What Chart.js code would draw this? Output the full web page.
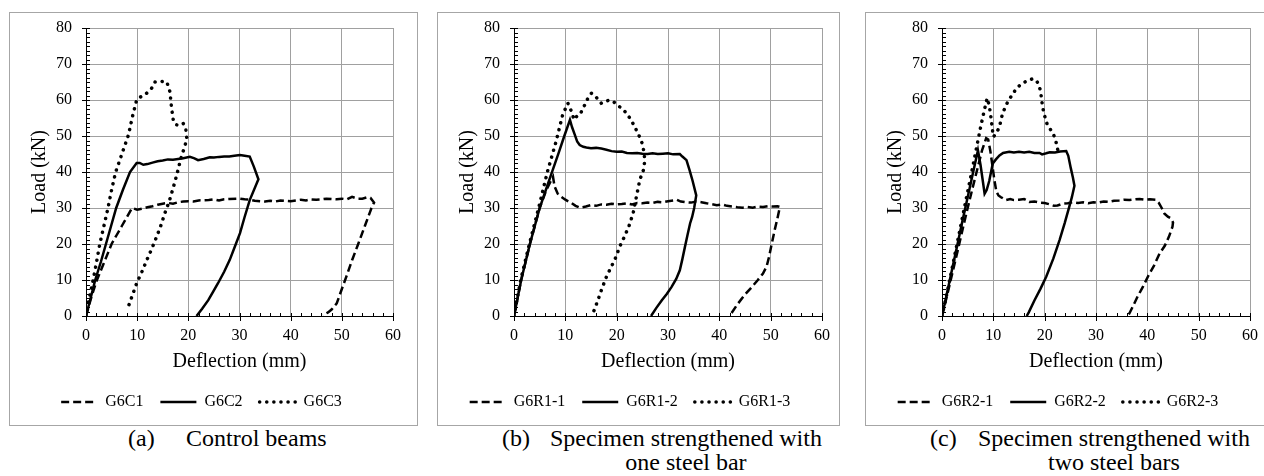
<!DOCTYPE html>
<html>
<head>
<meta charset="utf-8">
<script src="https://cdn.jsdelivr.net/npm/chart.js@4.4.1/dist/chart.umd.min.js"></script>
<style>
  html, body { margin: 0; padding: 0; background: #fff; }
  body { width: 1264px; height: 476px; position: relative; overflow: hidden; font-family: 'Liberation Serif', 'Times New Roman', Times, 'DejaVu Serif', 'Noto Serif', serif; color: #000; }
  .panel { position: absolute; top: 12px; height: 412px; border: 1px solid #a6a6a6; }
  .panel canvas { display: block; }
  .cap { position: absolute; top: 426px; font-size: 24px; line-height: 24px; white-space: nowrap; }
  .cap.txt { text-align: center; }
</style>
</head>
<body>
<div class="panel" style="left:9px;width:407px"><canvas id="chartA" width="407" height="412"></canvas></div>
<div class="panel" style="left:437px;width:401px"><canvas id="chartB" width="401" height="412"></canvas></div>
<div class="panel" style="left:865px;width:401px"><canvas id="chartC" width="401" height="412"></canvas></div>

<div class="cap" style="left:128px">(a)</div>
<div class="cap" style="left:186px">Control beams</div>
<div class="cap" style="left:502px">(b)</div>
<div class="cap txt" style="left:550px">Specimen strengthened with<br>one steel bar</div>
<div class="cap" style="left:930px">(c)</div>
<div class="cap txt" style="left:978px">Specimen strengthened with<br>two steel bars</div>

<script>
// axis ticks
const deflectionTicks = [0, 10, 20, 30, 40, 50, 60];
const loadTicks = [0, 10, 20, 30, 40, 50, 60, 70, 80];

// (a) control beams, [deflection mm, load kN]
const g6c1 = [[0,0],[1,5],[2,9.5],[3,13],[4,16.5],[5,20],[6,22.5],[7,25],[8,27.5],[9,30],[10,29.5],[11,29.8],[12,30.2],[13,30.5],[14,30.9],[15,31.2],[16,31.4],[17,31.2],[18,31.6],[19,31.8],[20,31.9],[21,31.8],[22,32.1],[24,32.2],[25,32.4],[26,32.1],[27,32.4],[28,32.5],[30,32.6],[31,32.4],[32,32.3],[33,32],[34,31.9],[35,31.8],[36,32],[37,31.8],[38,32.1],[39,32],[40,31.9],[41,32.1],[42,32.3],[43,32.1],[44,32.4],[45,32.3],[46,32.4],[47,32.6],[48,32.5],[49,32.4],[50,32.6],[51,32.4],[52,33.1],[53,32.6],[54,32.6],[55,33],[55.6,32.8],[56.3,31.5],[55.8,30],[54.5,25],[53.2,20],[52,15.5],[50.9,11],[50,7.5],[49,3.5],[48,1.8],[47.3,1],[46.3,0.2]];
const g6c2 = [[0,0],[1,5.5],[1.8,10],[2.9,15],[3.9,20],[4.9,25],[5.9,30],[7.2,35],[8.6,40],[9.9,42.5],[10.5,42.5],[11.2,42],[12,42.2],[13,42.6],[14,43],[15,43.2],[16,43.5],[17,43.4],[18,43.6],[19,43.8],[20.3,44.2],[21.2,43.8],[21.9,43.3],[23,43.6],[24.2,44.1],[25,44],[26,44.2],[27,44.3],[28,44.3],[29,44.5],[30.1,44.7],[31,44.5],[32,44.3],[32.8,41.5],[33.7,38],[32,32.2],[31,27.5],[30.1,23],[29.1,19.3],[28.1,15.6],[27,12.3],[25.8,9.1],[24.8,6.6],[23.9,4.4],[22.7,2],[21.6,0]];
const g6c3 = [[0,0],[0.5,4],[1.4,10],[2,14.5],[2.7,20],[3.5,25],[4.3,30],[5,35],[5.8,40],[6.6,43.3],[7.5,47],[8.3,50.3],[9.1,55.5],[9.9,60],[10.6,60.8],[11.5,61.4],[12.8,63.2],[13.5,65],[14.6,65.2],[15.8,65],[16.4,62.3],[16.7,58.1],[17.1,54],[17.7,53.1],[18.3,53],[19,53.5],[19.5,52],[19.7,49.4],[19.3,47],[18.8,45],[18.4,43],[17.8,39.5],[17.1,35.9],[16.3,32],[15.4,28.5],[14.6,25],[13.8,22],[12.8,18.5],[11.9,15.6],[10.9,12.2],[9.9,9.1],[9,5.5],[8.1,1.9]];

// (b) one steel bar
const g6r11 = [[0,0],[1.4,10],[3.1,20],[5,30],[6.3,35],[7.6,38.7],[7.9,36],[8.5,34],[9.2,33.1],[10,32.3],[11.2,31.4],[12,30.6],[12.8,30.1],[14,30.4],[15,30.8],[16,30.6],[17,31],[18,30.9],[19,31.2],[20,31],[21,31.1],[22,31.3],[23,31],[24,31.4],[25,31.3],[26,31.5],[27,31.4],[28,31.7],[29,31.6],[30,31.9],[31,32.1],[31.7,32.3],[32.5,31.8],[33.5,31.6],[34.5,31.5],[35.5,31.8],[36.5,31.6],[37.5,31.3],[38.5,31.1],[39.5,30.8],[40.5,31],[41.5,30.6],[42.5,30.4],[43.5,30.2],[44.5,30.1],[45.5,30.3],[46.5,30.1],[47.5,30.4],[48.5,30.3],[49.5,30.5],[50.5,30.4],[51.3,30.5],[51.8,30.3],[51.3,27],[50.8,24],[50.1,19.3],[49.7,16.5],[49.2,13.7],[48.5,11.8],[47.5,10],[46.3,8],[44.9,5.8],[43.5,3.2],[42,0]];
const g6r12 = [[0,0],[1.4,10],[3.1,20],[5,30],[6.2,35],[7.5,40.4],[8.7,45.3],[9.8,50],[10.9,54.5],[11.3,52.5],[11.8,50.5],[12.3,48.5],[12.8,47.5],[13.5,47],[14.1,46.8],[15,46.6],[16,46.7],[17,46.5],[18,46.2],[19,45.8],[20,45.6],[21,45.7],[22,45.3],[23,45.2],[24,45.3],[25,45.1],[26,45],[27,45.2],[28,45],[29,45.1],[30,45.2],[31,44.9],[32.3,45],[32.8,44.3],[33.6,43.3],[34.2,40.5],[34.8,37.5],[35.5,33.5],[35.1,30],[34.7,27.5],[34.3,25.7],[33.8,22.5],[33.3,19.2],[32.8,15.8],[32.3,12.7],[31.6,10.3],[30.7,8.1],[29.8,6.2],[28.8,4.4],[27.7,2.2],[26.7,0]];
const g6r13 = [[0,0],[1.3,10],[3,20],[4.8,30],[6.5,40],[8.2,48.5],[9.5,56],[10.5,59.1],[11.2,56.8],[11.7,54.5],[12.2,55.4],[12.8,55.8],[13.5,57.8],[14.3,60.2],[15.1,61.9],[16,60.8],[17,59.1],[17.8,59.6],[18.6,60],[19.5,59.4],[20.5,58.2],[21.2,57.5],[21.9,56.3],[22.8,54.5],[23.5,52.6],[24.3,50.3],[25.1,47.5],[25.5,43.3],[25.2,40.5],[24.5,37.8],[23.9,33.5],[23.2,28.5],[22.4,25],[21.5,22],[20.6,19.3],[19.8,16.2],[18.9,13.5],[18,10.9],[17.1,7.5],[16.3,4.2],[15.4,0.8]];

// (c) two steel bars
const g6r21 = [[0,0],[1,5.8],[2,11.8],[3,17.8],[4,24],[5,30],[6,35.8],[7,41.5],[7.8,46],[8.6,49.4],[9,49],[9.4,46],[9.8,42],[10.2,37.8],[10.6,34.5],[11,33.5],[11.5,33],[12.4,32.2],[13.3,32.5],[14,32.2],[15,32.3],[16,32.5],[17,31.7],[18,31.8],[19,31.5],[20,31.4],[21,31],[21.8,30.6],[22.5,30.7],[23.5,31.2],[24.5,31.3],[25.5,31.6],[26.5,31.4],[27.5,31.6],[28.5,31.3],[29.5,31.6],[30.5,31.5],[31.5,31.8],[32.5,31.7],[33.5,32],[34.5,32.1],[35.5,32.3],[36.5,32.2],[37.7,32.4],[38.5,32.5],[39.5,32.3],[40.5,32.4],[41.6,32.3],[42.2,31.5],[42.8,30],[43.3,28.5],[44,27.6],[44.6,27.1],[45,26],[44.9,24.8],[44.2,22],[43.4,19.5],[42.4,17.4],[41.3,14],[40.1,10.9],[39.1,8],[38.1,5.4],[37.3,3],[36.5,0.7],[36.2,0]];
const g6r22 = [[0,0],[1,6.5],[2,13.2],[3,19.8],[4,26.5],[5,33],[6,39.5],[7,46],[7.5,42],[8,37],[8.3,34],[8.7,35],[9.2,37.5],[9.9,42.4],[10.5,43.5],[11.2,44.6],[11.9,45.3],[13.1,45.6],[14,45.4],[15,45.6],[16,45.4],[17,45.6],[18,45.3],[19,45.3],[19.5,44.9],[20.3,45.2],[21,45.5],[22,45.4],[23,45.7],[24.2,45.8],[24.6,44.5],[25.1,41],[25.5,38.5],[25.8,36.2],[25.3,33],[24.8,30.4],[23.9,25.8],[22.9,21.1],[21.7,16],[20.3,10.9],[19.2,7.6],[18,4.3],[16.9,1],[16.5,0]];
const g6r23 = [[0,0],[1,6.5],[2,13.5],[3,20.5],[4,27.5],[5,34.5],[6,41.5],[6.9,48],[7.6,53],[8.3,57.5],[8.8,60.5],[9.2,58.5],[9.5,55.5],[10,49.8],[10.5,50.5],[11.2,52.6],[11.8,56.3],[12.8,59.5],[13.7,61.5],[14.6,63.4],[15.6,64.6],[16.6,65.3],[17.5,65.8],[18.3,65.6],[18.8,64.4],[19.2,62.5],[19.6,58],[20.1,55],[20.5,53.2],[21,52.1],[21.7,50.5],[22.1,49],[22.4,47.2],[22.6,45.8]];

Chart.defaults.font.family = "'Liberation Serif', 'Times New Roman', Times, 'DejaVu Serif', 'Noto Serif', serif";
Chart.defaults.color = '#000';

// dashed, solid, dotted
const lineStyles = [
    { borderWidth: 2.5, borderDash: [8, 4], borderCapStyle: 'butt' },
    { borderWidth: 2.5, borderDash: [], borderCapStyle: 'butt' },
    { borderWidth: 3.5, borderDash: [0.1, 7], borderCapStyle: 'round' }
];

// Excel style tick marks: major ones cross the axis, minor ones sit inside
const tickMarks = {
    id: 'tickMarks',
    afterDatasetsDraw(chart) {
        const { ctx, scales: { x, y } } = chart;
        const x0 = x.getPixelForValue(0);
        const y0 = y.getPixelForValue(0);
        ctx.save();
        ctx.strokeStyle = '#000';
        ctx.lineWidth = 1;
        ctx.beginPath();
        for (let v = 0; v <= 60; v += 2) {
            const px = Math.round(x.getPixelForValue(v)) + 0.5;
            ctx.moveTo(px, y0 - 3);
            ctx.lineTo(px, y0 + (v % 10 === 0 ? 5 : 0));
        }
        for (let v = 0; v <= 80; v += 1.25) {
            const py = Math.round(y.getPixelForValue(v)) + 0.5;
            ctx.moveTo(x0 + 4, py);
            ctx.lineTo(x0 - (v % 10 === 0 ? 4 : 0), py);
        }
        ctx.stroke();
        ctx.restore();
    }
};

// legend samples take the dataset's dash, width and cap
function legendLabels(chart) {
    return Chart.defaults.plugins.legend.labels.generateLabels(chart).map(item => {
        const ds = chart.data.datasets[item.datasetIndex];
        return Object.assign(item, {
            lineDash: ds.borderDash,
            lineWidth: ds.borderWidth,
            lineCap: ds.borderCapStyle,
            strokeStyle: '#000',
            fillStyle: '#000',
            pointStyle: 'line'
        });
    });
}

function makeChart(id, names, series, padRight) {
    return new Chart(document.getElementById(id), {
        type: 'scatter',
        data: {
            datasets: series.map((s, i) => Object.assign({
                label: names[i],
                data: s.map(p => ({ x: p[0], y: p[1] })),
                showLine: true,
                borderColor: '#000',
                backgroundColor: '#000',
                pointRadius: 0,
                pointHoverRadius: 0,
                tension: 0
            }, lineStyles[i]))
        },
        options: {
            responsive: false,
            animation: false,
            events: [],
            layout: { padding: { top: 15, right: padRight, bottom: 5, left: 0 } },
            plugins: {
                legend: {
                    position: 'bottom',
                    labels: {
                        usePointStyle: true,
                        pointStyle: 'line',
                        pointStyleWidth: 36,
                        padding: 17,
                        color: '#000',
                        font: { size: 16 },
                        generateLabels: legendLabels
                    }
                },
                tooltip: { enabled: false }
            },
            scales: {
                x: {
                    type: 'linear',
                    min: 0,
                    max: 60,
                    afterBuildTicks: s => { s.ticks = deflectionTicks.map(v => ({ value: v })); },
                    afterFit: s => { s.height = 61; },
                    grid: { color: '#a0a0a0', drawTicks: true, tickLength: 10, tickColor: 'rgba(0,0,0,0)' },
                    border: { color: '#000', width: 1 },
                    ticks: { padding: 0, font: { size: 16 }, maxRotation: 0, autoSkip: false },
                    title: { display: true, text: 'Deflection (mm)', font: { size: 20 }, padding: { top: 0, bottom: 3 } }
                },
                y: {
                    type: 'linear',
                    min: 0,
                    max: 80,
                    afterBuildTicks: s => { s.ticks = loadTicks.map(v => ({ value: v })); },
                    afterFit: s => { s.width = 76; },
                    grid: { color: '#a0a0a0', drawTicks: true, tickLength: 14, tickColor: 'rgba(0,0,0,0)' },
                    border: { color: '#000', width: 1 },
                    ticks: { padding: 0, font: { size: 16 }, autoSkip: false },
                    title: { display: true, text: 'Load (kN)', font: { size: 20 }, padding: { top: 18, bottom: 0 } }
                }
            }
        },
        plugins: [tickMarks]
    });
}

makeChart('chartA', ['G6C1', 'G6C2', 'G6C3'], [g6c1, g6c2, g6c3], 24);
makeChart('chartB', ['G6R1-1', 'G6R1-2', 'G6R1-3'], [g6r11, g6r12, g6r13], 17);
makeChart('chartC', ['G6R2-1', 'G6R2-2', 'G6R2-3'], [g6r21, g6r22, g6r23], 17);
</script>
</body>
</html>
